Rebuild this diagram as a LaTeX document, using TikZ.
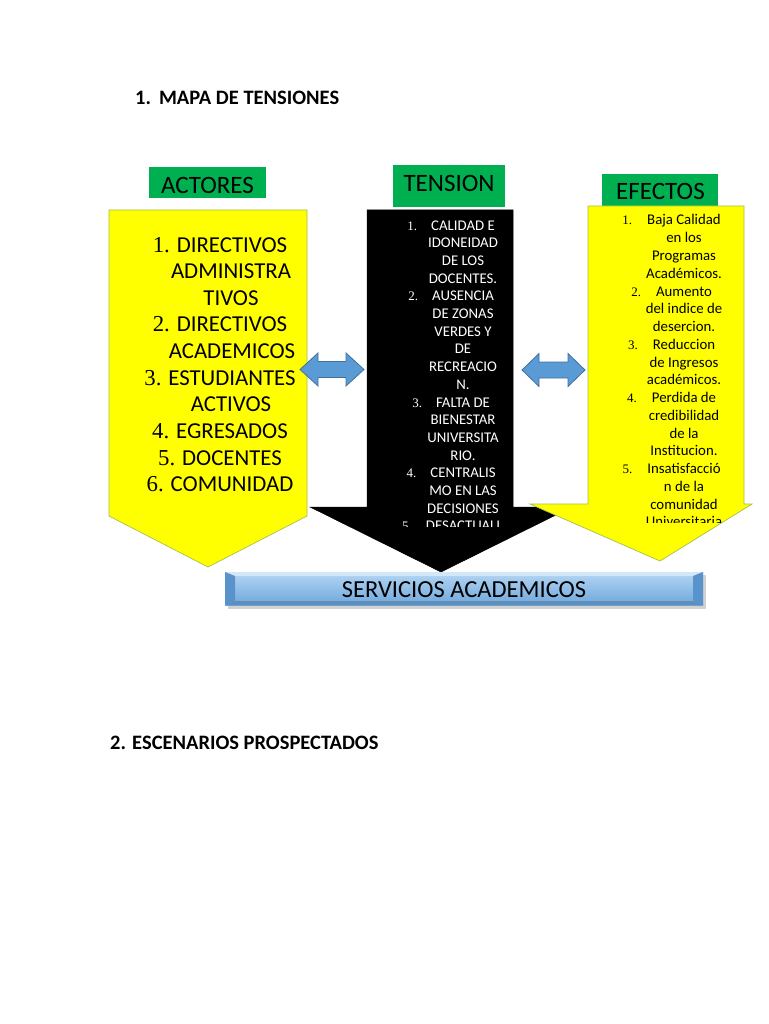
\documentclass[tikz,border=0pt]{standalone}
\usepackage{fontspec}
\setmainfont{Carlito}
\newfontfamily\numfont{Liberation Serif}
\definecolor{arrowyellow}{HTML}{FFFF00}
\definecolor{yedge}{HTML}{A6C04A}
\definecolor{offgreen}{HTML}{00B050}
\definecolor{dblue}{HTML}{5B9BD5}
\definecolor{dblueedge}{HTML}{41719C}
\definecolor{svtop}{HTML}{B4D6F4}
\definecolor{svbot}{HTML}{6FA7DB}
\definecolor{svdark}{HTML}{5A93CC}
\definecolor{svlight}{HTML}{D3E7F9}
\tikzset{
  yarrow/.style={fill=arrowyellow, draw=yedge, line width=0.7pt, line join=miter},
  karrow/.style={fill=black, draw=black, line width=0.5pt},
  darrow/.style={fill=dblue, draw=dblueedge, line width=0.8pt},
  greenbox/.style={fill=offgreen},
  lbl/.style={font=\fontsize{25}{30}\selectfont, text=black, inner sep=0pt, anchor=base},
  heading/.style={font=\bfseries\fontsize{20.5}{24}\selectfont, inner sep=0pt, anchor=base west},
  actorline/.style={font=\fontsize{22.8}{27}\selectfont, inner sep=0pt, anchor=base},
  tenline/.style={font=\fontsize{14.8}{17.7}\selectfont, text=white, inner sep=0pt, anchor=base},
  efline/.style={font=\fontsize{14.8}{17.7}\selectfont, text=black, inner sep=0pt, anchor=base},
}
\begin{document}
\begin{tikzpicture}[x=1pt,y=-1pt]
\useasboundingbox (0,0) rectangle (768,1024);
\fill[white] (0,0) rectangle (768,1024);

% headings
\node[heading] (h1) at (135,105) {1.\hspace{8pt}MAPA DE TENSIONES};
\node[heading] (h2) at (110,749) {2. ESCENARIOS PROSPECTADOS};

% green labels
\fill[greenbox] (149,167) rectangle (266,198);
\node[lbl] (actores) at (207.5,194) {ACTORES};
\fill[greenbox] (393,165) rectangle (505,207);
\node[lbl] (tension) at (449,192) {TENSION};
\fill[greenbox] (602,174) rectangle (718,207);
\node[lbl] (efectos) at (660.5,200) {EFECTOS};

% left yellow arrow
\path[yarrow] (109,210) -- (307,210) -- (307,516) -- (208,567) -- (109,516) -- cycle;
\node[actorline] (a1) at (220,252) {{\numfont 1.} DIRECTIVOS};
\node[actorline] (a2) at (231,278.65) {ADMINISTRA};
\node[actorline] (a3) at (231,305.3) {TIVOS};
\node[actorline] (a4) at (220,331.95) {{\numfont 2.} DIRECTIVOS};
\node[actorline] (a5) at (232,358.6) {ACADEMICOS};
\node[actorline] (a6) at (220,385.25) {{\numfont 3.} ESTUDIANTES};
\node[actorline] (a7) at (231,411.9) {ACTIVOS};
\node[actorline] (a8) at (220,438.55) {{\numfont 4.} EGRESADOS};
\node[actorline] (a9) at (220,465.2) {{\numfont 5.} DOCENTES};
\node[actorline] (a10) at (220,491.85) {{\numfont 6.} COMUNIDAD};

% black tension arrow
\path[karrow] (367,210) -- (513,210) -- (513,507) -- (572,507) -- (441,572) -- (310,507) -- (367,507) -- cycle;
\begin{scope}
\clip (360,205) rectangle (520,526);
\foreach \n/\t [count=\i] in {1./CALIDAD E,/IDONEIDAD,/DE LOS,/DOCENTES.,2./AUSENCIA,/DE ZONAS,/VERDES Y,/DE,/RECREACIO,/N.,3./FALTA DE,/BIENESTAR,/UNIVERSITA,/RIO.,4./CENTRALIS,/MO EN LAS,/DECISIONES,5./DESACTUALI}
  \node[tenline] (ten\i) at (463,{230+(\i-1)*17.7}) {\llap{{\numfont\fontsize{13}{15}\selectfont\n}\hspace{14pt}}\t};
\end{scope}

% yellow effects arrow
\path[yarrow] (588,206) -- (744,206) -- (744,504) -- (752,504) -- (660,561) -- (530,504) -- (588,504) -- cycle;
\begin{scope}
\clip (585,205) rectangle (750,522);
\foreach \n/\t [count=\i] in {1./Baja Calidad,/en los,/Programas,/Académicos.,2./Aumento,/del indice de,/desercion.,3./Reduccion,/de Ingresos,/académicos.,4./Perdida de,/credibilidad,/de la,/Institucion.,5./Insatisfacció,/n de la,/comunidad,/Universitaria}
  \node[efline] (ef\i) at (684,{225+(\i-1)*17.75}) {\llap{{\numfont\fontsize{13}{15}\selectfont\n}\hspace{15pt}}\t};
\end{scope}

% double arrows
\path[darrow] (300,369.5) -- (318,353) -- (318,361.5) -- (346,361.5) -- (346,353) -- (364,369.5) -- (346,386) -- (346,377.5) -- (318,377.5) -- (318,386) -- cycle;
\path[darrow] (522,370) -- (539,353.5) -- (539,362) -- (568,362) -- (568,353.5) -- (585,370) -- (568,386.5) -- (568,378) -- (539,378) -- (539,386.5) -- cycle;

% servicios box
\fill[black!35, opacity=0.5] (228,575) rectangle (706,609);
\shade[top color=svtop, bottom color=svbot] (225,572) rectangle (703,605);
\fill[svlight] (225,572) -- (703,572) -- (693,576) -- (235,576) -- cycle;
\fill[svdark] (225,572) -- (235,576) -- (235,601) -- (225,605) -- cycle;
\fill[svdark] (703,572) -- (693,576) -- (693,601) -- (703,605) -- cycle;
\fill[svbot!85!black] (225,605) -- (235,601) -- (693,601) -- (703,605) -- cycle;
\node[lbl, font=\fontsize{24.5}{29}\selectfont] (serv) at (464,597) {SERVICIOS ACADEMICOS};
\end{tikzpicture}
\end{document}
